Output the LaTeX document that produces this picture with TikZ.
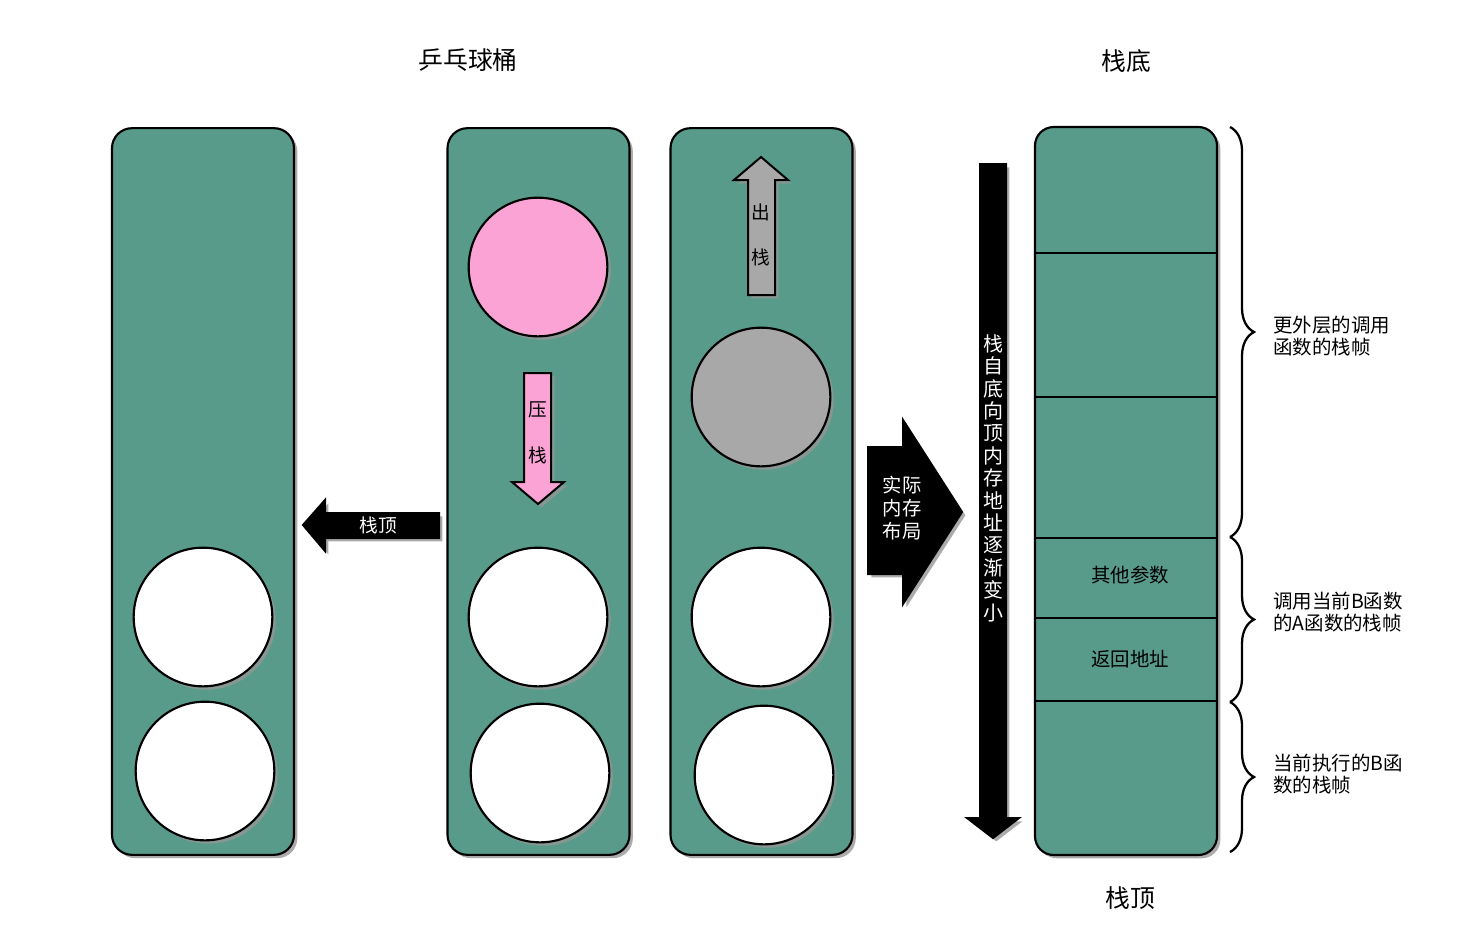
\documentclass[tikz,border=0pt]{standalone}
\usepackage{fontspec}
\setmainfont{Noto Sans CJK SC}
\usetikzlibrary{shadows,decorations.pathreplacing}
\definecolor{stackgreen}{RGB}{88,155,138}
\definecolor{ballpink}{RGB}{250,163,212}
\definecolor{ballgrey}{RGB}{168,168,168}
\definecolor{shadowgrey}{RGB}{150,150,150}
\tikzset{
  shad/.style={drop shadow={shadow xshift=2.5pt,shadow yshift=-2.5pt,fill=shadowgrey,opacity=0.8}},
  bucket/.style={shad,draw=black,line width=1.6pt,fill=stackgreen,rounded corners=15pt,
    minimum width=136.5pt,minimum height=545pt,inner sep=0pt},
  ball/.style={shad,circle,draw=black,line width=1.6pt,fill=white,minimum size=104pt,inner sep=0pt},
  blockarrow/.style={shad,draw=black,line width=1.5pt,line join=miter},
  whitetext/.style={text=white,font=\fontsize{14}{16.5}\selectfont,inner sep=0pt},
  smalltext/.style={text=black,font=\fontsize{14.6}{16.5}\selectfont,inner sep=0pt},
  bigtext/.style={text=black,font=\fontsize{18.6}{20}\selectfont,inner sep=0pt},
  bracestyle/.style={decorate,decoration={brace,amplitude=18pt},line width=1.7pt},
}
\begin{document}
\begin{tikzpicture}[x=0.75pt,y=-0.75pt]
\useasboundingbox (0,0) rectangle (1462,936);
% titles
\node[bigtext] (t1) at (468,60) {乒乓球桶};
\node[bigtext] (t2) at (1126,61) {栈底};
\node[bigtext] (t3) at (1130,898) {栈顶};
% buckets
\node[bucket] (c1) at (203,491.5) {};
\node[bucket] (c2) at (538.5,491.5) {};
\node[bucket] (c3) at (761.5,491.5) {};
% balls column 1
\node[ball] (b11) at (203,617) {};
\node[ball] (b12) at (205,771) {};
% balls column 2
\node[ball,fill=ballpink] (b20) at (538,267) {};
\node[ball] (b21) at (538,617) {};
\node[ball] (b22) at (540,773) {};
% balls column 3
\node[ball,fill=ballgrey] (b30) at (761,397) {};
\node[ball] (b31) at (761,617) {};
\node[ball] (b32) at (764,775) {};
% left arrow: 栈顶
\draw[blockarrow,fill=black] (439,513) -- (325,513) -- (325,500) -- (303,525) -- (325,551) -- (325,538) -- (439,538) -- cycle;
\node[whitetext] (l1) at (378,525) {栈顶};
% pink push arrow
\draw[blockarrow,fill=ballpink] (524,373) -- (551,373) -- (551,482) -- (564,482) -- (538,504) -- (512,482) -- (524,482) -- cycle;
\node[smalltext,font=\fontsize{14}{16}\selectfont] (p1) at (538,410) {压};
\node[smalltext,font=\fontsize{14}{16}\selectfont] (p2) at (538,455) {栈};
% grey pop arrow
\draw[blockarrow,fill=ballgrey] (748,295) -- (775,295) -- (775,180) -- (788,180) -- (761,157) -- (734,180) -- (748,180) -- cycle;
\node[smalltext,font=\fontsize{14}{16}\selectfont] (q1) at (761,212) {出};
\node[smalltext,font=\fontsize{14}{16}\selectfont] (q2) at (761,257) {栈};
% big right arrow
\draw[blockarrow,fill=black] (868,447) -- (903,447) -- (903,420) -- (962,512) -- (903,604) -- (903,574) -- (868,574) -- cycle;
\node[whitetext,align=center,font=\fontsize{14.5}{17}\selectfont] (r1) at (902,508) {实际\\内存\\布局};
% long vertical arrow
\draw[blockarrow,fill=black] (980,164) -- (1006,164) -- (1006,818) -- (1019,818) -- (993,838) -- (967,818) -- (980,818) -- cycle;
\node[whitetext,align=center,font=\fontsize{15}{16.8}\selectfont] (v1) at (993,478)
  {栈\\自\\底\\向\\顶\\内\\存\\地\\址\\逐\\渐\\变\\小};
% right stack
\node[bucket,minimum height=546pt,rounded corners=14pt] (st) at (1126,491) {};
\foreach \yy in {253,397,538,618,701}
  \draw[line width=1.4pt] (1036,\yy) -- (1216,\yy);
\node[smalltext] (s1) at (1130,575) {其他参数};
\node[smalltext] (s2) at (1130,659) {返回地址};
% braces
\draw[bracestyle] (1230,127) -- (1230,537);
\draw[bracestyle] (1230,537) -- (1230,702);
\draw[bracestyle] (1230,702) -- (1230,852);
\node[smalltext,anchor=west,align=left] (d1) at (1273,336) {更外层的调用\\函数的栈帧};
\node[smalltext,anchor=west,align=left] (d2) at (1273,612) {调用当前B函数\\的A函数的栈帧};
\node[smalltext,anchor=west,align=left] (d3) at (1273,774) {当前执行的B函\\数的栈帧};
\end{tikzpicture}
\end{document}
